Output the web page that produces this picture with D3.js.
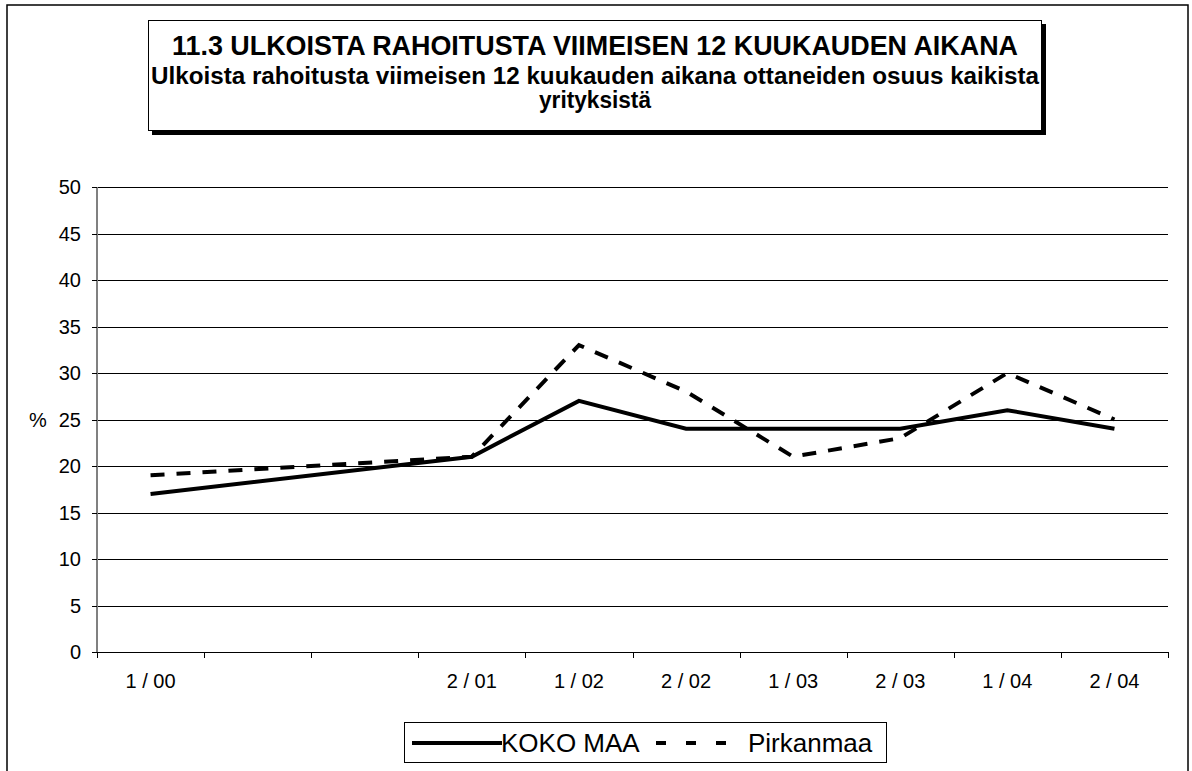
<!DOCTYPE html>
<html>
<head>
<meta charset="utf-8">
<script src="https://cdn.jsdelivr.net/npm/d3@7"></script>
<style>
  body { margin: 0; background: #fff; }
  text { font-family: "Liberation Sans", Arial, sans-serif; fill: #000; }
</style>
</head>
<body>
<div id="viz"></div>
<script>
// data
var periods = ['1/00', '2/00', '1/01', '2/01', '1/02', '2/02', '1/03', '2/03', '1/04', '2/04'];
var periodLabels = ['1 / 00', '', '', '2 / 01', '1 / 02', '2 / 02', '1 / 03', '2 / 03', '1 / 04', '2 / 04'];
var kokoMaa = [17, null, null, 21, 27, 24, 24, 24, 26, 24];
var pirkanmaa = [19, null, null, 21, 33, 28, 21, 23, 30, 25];
var yTicks = [0, 5, 10, 15, 20, 25, 30, 35, 40, 45, 50];

var W = 1192, H = 771;
var svg = d3.select('#viz').append('svg')
  .attr('width', W)
  .attr('height', H);

// outer frame
svg.append('rect')
  .attr('x', 7).attr('y', 5)
  .attr('width', 1181).attr('height', 780)
  .attr('fill', 'none')
  .attr('stroke', '#000')
  .attr('stroke-width', 1.5);

// title box with shadow
svg.append('rect')
  .attr('x', 152).attr('y', 24)
  .attr('width', 894).attr('height', 111)
  .attr('fill', '#000');
svg.append('rect')
  .attr('x', 148.5).attr('y', 20.5)
  .attr('width', 893).attr('height', 110)
  .attr('fill', '#fff')
  .attr('stroke', '#000')
  .attr('stroke-width', 1);

var titleX = 595;
svg.append('text')
  .attr('x', titleX).attr('y', 55)
  .attr('text-anchor', 'middle')
  .attr('textLength', 846).attr('lengthAdjust', 'spacingAndGlyphs')
  .style('font-size', '27px').style('font-weight', 'bold')
  .text('11.3 ULKOISTA RAHOITUSTA VIIMEISEN 12 KUUKAUDEN AIKANA');
svg.append('text')
  .attr('x', titleX).attr('y', 84)
  .attr('text-anchor', 'middle')
  .attr('textLength', 888).attr('lengthAdjust', 'spacingAndGlyphs')
  .style('font-size', '23px').style('font-weight', 'bold')
  .text('Ulkoista rahoitusta viimeisen 12 kuukauden aikana ottaneiden osuus kaikista');
svg.append('text')
  .attr('x', titleX).attr('y', 108)
  .attr('text-anchor', 'middle')
  .attr('textLength', 112).attr('lengthAdjust', 'spacingAndGlyphs')
  .style('font-size', '23px').style('font-weight', 'bold')
  .text('yrityksistä');

// plot area
var plotLeft = 97, plotRight = 1168, plotTop = 187, plotBottom = 652;

var x = d3.scaleBand().domain(periods).range([plotLeft, plotRight]).padding(0);
var y = d3.scaleLinear().domain([0, 50]).range([plotBottom, plotTop]);

var plot = svg.append('g');

// gridlines
plot.selectAll('.grid')
  .data(yTicks.filter(function(d) { return d > 0; }))
  .enter().append('line')
  .attr('class', 'grid')
  .attr('x1', plotLeft).attr('x2', plotRight)
  .attr('y1', function(d) { return Math.round(y(d)) + 0.5; })
  .attr('y2', function(d) { return Math.round(y(d)) + 0.5; })
  .attr('stroke', '#000')
  .attr('stroke-width', 1);

// y axis
plot.append('line')
  .attr('x1', plotLeft).attr('x2', plotLeft)
  .attr('y1', plotTop).attr('y2', plotBottom)
  .attr('stroke', '#808080')
  .attr('stroke-width', 2);
plot.selectAll('.ytick')
  .data(yTicks)
  .enter().append('line')
  .attr('class', 'ytick')
  .attr('x1', plotLeft - 5).attr('x2', plotLeft)
  .attr('y1', function(d) { return Math.round(y(d)) + 0.5; })
  .attr('y2', function(d) { return Math.round(y(d)) + 0.5; })
  .attr('stroke', '#000');
plot.selectAll('.ylab')
  .data(yTicks)
  .enter().append('text')
  .attr('class', 'ylab')
  .attr('x', 81)
  .attr('y', function(d) { return y(d) + 7; })
  .attr('text-anchor', 'end')
  .style('font-size', '20px')
  .text(function(d) { return d; });

svg.append('text')
  .attr('x', 29).attr('y', (plotTop + plotBottom) / 2 + 7)
  .style('font-size', '20px')
  .text('%');

// x axis
plot.append('line')
  .attr('x1', plotLeft).attr('x2', plotRight)
  .attr('y1', plotBottom + 0.5).attr('y2', plotBottom + 0.5)
  .attr('stroke', '#000');
var edges = periods.map(function(p) { return x(p); }).concat([plotRight]);
plot.selectAll('.xtick')
  .data(edges)
  .enter().append('line')
  .attr('class', 'xtick')
  .attr('x1', function(d) { return Math.round(d) + 0.5; })
  .attr('x2', function(d) { return Math.round(d) + 0.5; })
  .attr('y1', plotBottom).attr('y2', plotBottom + 6)
  .attr('stroke', '#000');
plot.selectAll('.xlab')
  .data(periods)
  .enter().append('text')
  .attr('class', 'xlab')
  .attr('x', function(d) { return x(d) + x.bandwidth() / 2; })
  .attr('y', 688)
  .attr('text-anchor', 'middle')
  .style('font-size', '20px')
  .text(function(d, i) { return periodLabels[i]; });

// lines - missing periods are skipped and the line joins across them
var line = d3.line()
  .x(function(d) { return x(d.p) + x.bandwidth() / 2; })
  .y(function(d) { return y(d.v); });

function pts(vals) {
  return periods.map(function(p, i) { return {p: p, v: vals[i]}; })
    .filter(function(d) { return d.v != null; });
}

plot.append('path')
  .datum(pts(pirkanmaa))
  .attr('d', line)
  .attr('fill', 'none')
  .attr('stroke', '#000')
  .attr('stroke-width', 4)
  .attr('stroke-dasharray', '14,12');

plot.append('path')
  .datum(pts(kokoMaa))
  .attr('d', line)
  .attr('fill', 'none')
  .attr('stroke', '#000')
  .attr('stroke-width', 4)
  .attr('stroke-linejoin', 'miter');

// legend
var legend = svg.append('g');
legend.append('rect')
  .attr('x', 404.5).attr('y', 722.5)
  .attr('width', 482).attr('height', 40)
  .attr('fill', '#fff')
  .attr('stroke', '#000');
legend.append('line')
  .attr('x1', 412).attr('x2', 502)
  .attr('y1', 743).attr('y2', 743)
  .attr('stroke', '#000').attr('stroke-width', 4);
legend.append('text')
  .attr('x', 501).attr('y', 752)
  .style('font-size', '26px')
  .text('KOKO MAA');
legend.append('line')
  .attr('x1', 656).attr('x2', 728)
  .attr('y1', 743).attr('y2', 743)
  .attr('stroke', '#000').attr('stroke-width', 4)
  .attr('stroke-dasharray', '10,20');
legend.append('text')
  .attr('x', 748).attr('y', 752)
  .style('font-size', '26px')
  .text('Pirkanmaa');
</script>
</body>
</html>
